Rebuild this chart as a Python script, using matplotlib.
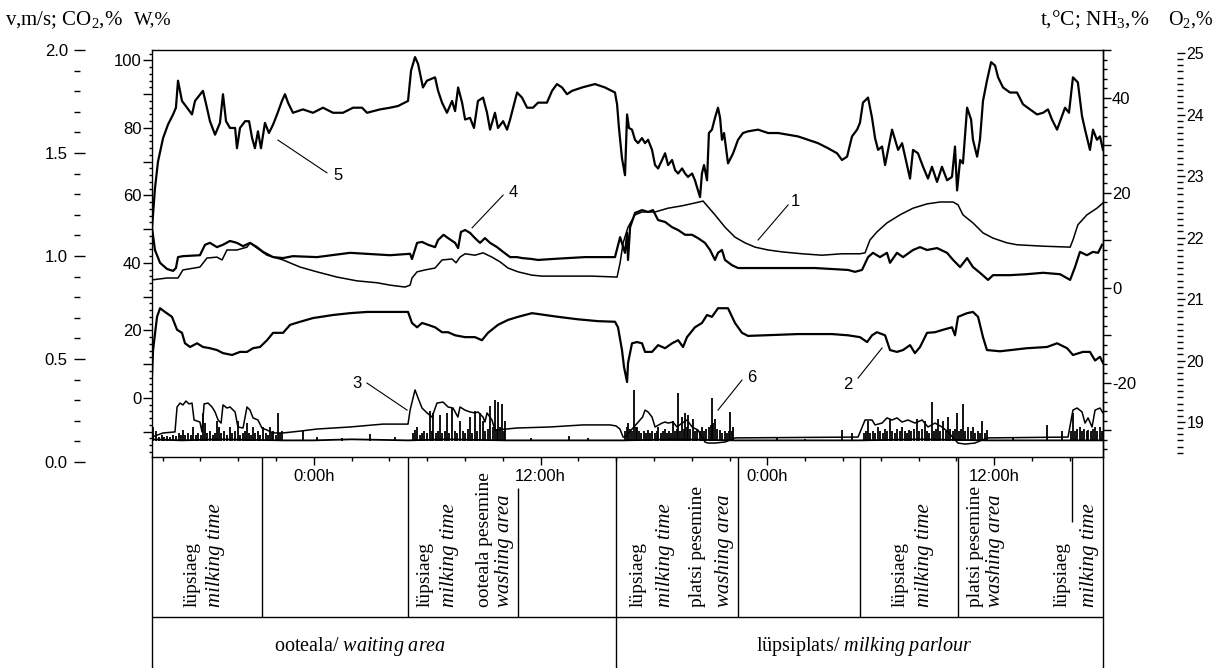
import matplotlib
matplotlib.use("Agg")
import matplotlib.pyplot as plt
from matplotlib.ticker import MultipleLocator, FixedLocator, FixedFormatter, FuncFormatter

# time axis: hours after 16:00 of the first day (waiting area 0-24 h, milking parlour 24-48 h)
clock_ticks = [8, 20, 32, 44]
clock_labels = ["0:00h", "12:00h", "0:00h", "12:00h"]

# 5 - relative humidity W, %
rh_h = [-0.56, -0.40, -0.24, 0.03, 0.29, 0.56, 0.71, 0.82, 1.03, 1.30, 1.56, 1.72, 2.14, 2.35, 2.51, 2.78,
        3.04, 3.20, 3.36, 3.57, 3.84, 3.94, 4.10, 4.37, 4.58, 4.74, 4.89, 5.05, 5.21, 5.42, 5.63, 5.85,
        6.06, 6.32, 6.48, 6.64, 6.90, 7.43, 7.96, 8.49, 9.02, 9.55, 10.08, 10.56, 10.82, 11.51, 12.04,
        12.46, 12.99, 13.15, 13.36, 13.52, 13.78, 13.99, 14.42, 14.58, 14.79, 15.05, 15.32, 15.48, 15.64,
        15.85, 16.01, 16.27, 16.48, 16.69, 16.96, 17.17, 17.33, 17.59, 17.75, 18.02, 18.23, 18.39, 18.76,
        19.02, 19.29, 19.60, 19.87, 20.34, 20.61, 20.87, 21.14, 21.40, 21.67, 22.20, 22.88, 23.41, 23.94,
        24.05, 24.15,
        24.31, 24.47, 24.58, 24.68, 24.84, 25.00, 25.16, 25.37, 25.53, 25.69, 25.90, 26.06, 26.22, 26.43,
        26.59, 26.75, 26.96, 27.12, 27.28, 27.49, 27.65, 27.80, 28.02, 28.17, 28.33, 28.44, 28.54, 28.65,
        28.81, 28.91, 29.07, 29.23, 29.39, 29.50, 29.60, 29.71, 29.92, 30.19, 30.45, 30.71, 30.98, 31.51,
        32.04, 32.57, 33.10, 33.62, 34.15, 34.68, 35.21, 35.69, 35.95, 36.22, 36.48, 36.75, 36.90, 37.06,
        37.33, 37.54, 37.70, 37.86, 38.07, 38.23, 38.39, 38.60, 38.76, 38.92, 39.13, 39.29, 39.55, 39.71,
        39.97, 40.24, 40.50, 40.71, 40.98, 41.24, 41.51, 41.77, 41.93, 42.04, 42.20, 42.35, 42.57, 42.78,
        42.88, 43.10, 43.25, 43.41, 43.62, 43.84, 44.05, 44.21, 44.47, 44.84, 45.21, 45.53, 45.90, 46.27,
        46.59, 46.85, 47.06, 47.33, 47.59, 47.75, 47.96, 48.17, 48.43, 48.65, 48.81, 49.07, 49.23, 49.44,
        49.60, 49.76]
rh = [50, 62, 70, 77, 81, 84, 86, 94, 88, 86, 84, 88, 91, 86, 82, 78,
      81.5, 90, 82, 80, 80, 74, 80, 82, 82, 77, 74, 79, 74, 81.5, 78.5, 81,
      84, 88, 90, 87.5, 84.5, 85.5, 84.5, 86, 84.5, 84.5, 86, 86, 84.5, 85.5, 86,
      86.5, 88, 97, 101, 99, 92, 94, 95, 91, 87.5, 84.5, 88, 85, 92,
      87.5, 82.5, 83, 80, 88, 89, 84.5, 79.5, 84.5, 80, 82, 79.5, 82.5, 90.5,
      89, 86, 86, 87.5, 87.5, 91, 93, 92, 90, 91, 92, 93, 92, 90.5,
      87, 80,
      71, 66, 84, 80, 79.5, 76.5, 75.5, 77, 75.5, 76.5, 73.5, 69, 68, 70.5,
      72.5, 69, 70.5, 67.5, 66.5, 68, 66.5, 65.5, 66.5, 64.5, 61.5, 59.5, 66.5, 69,
      64.5, 78.5, 79.5, 83, 86, 83, 76.5, 78.5, 69.5, 72.5, 76.5, 78.5, 79, 79.5,
      78.5, 78.5, 78, 77.5, 76.5, 75.5, 74, 72.5, 70.5, 71.5, 77.5, 79.5, 81.5, 87.5,
      89, 83, 77, 73.5, 74.5, 69, 73.5, 79.5, 76.5, 73.5, 75.5, 71.5, 65, 73.5,
      72.5, 68.5, 65, 68.5, 64, 68.5, 64.5, 65.5, 74.5, 61.5, 70.5, 69.5, 86, 82.5,
      76.5, 71.5, 76.5, 88, 94, 99.5, 98.5, 95, 92, 90.5, 90.5, 87, 85.5, 84,
      84.5, 85.5, 82.5, 79.5, 83.5, 86, 84.5, 95, 93.5, 83.5, 79.5, 73.5, 79.5, 76.5,
      77.5, 73.5]

# 1 - air temperature t, °C
temp_h = [-0.56, 0.24, 0.82, 1.08, 1.98, 2.35, 2.88, 3.15, 3.41, 3.94, 4.47, 4.63, 5.00, 5.53, 6.38,
          7.28, 8.17, 9.23, 10.29, 11.35, 12.04, 12.83, 13.10, 13.20, 13.47, 13.89, 14.42, 14.79, 15.32,
          15.53, 15.74, 16.01, 16.53, 16.96, 17.43, 17.86, 18.28, 18.81, 19.55, 20.08, 21.46, 22.72, 24.05,
          24.21, 24.37, 24.63, 25.00, 25.37, 26.06, 26.75, 27.49, 28.17, 28.60, 28.86, 29.23, 29.76, 30.29,
          30.82, 31.35, 32.04, 32.78, 33.84, 34.89, 35.95, 36.90, 37.17, 37.43, 37.80, 38.33, 39.02, 39.71,
          40.45, 41.14, 41.83, 42.09, 42.35, 42.88, 43.41, 43.94, 44.68, 45.21, 46.59, 48.02, 48.17, 48.43,
          48.91, 49.44, 49.76]
temp = [1.7, 2.1, 2.1, 3.8, 4.4, 6.3, 6.5, 5.9, 8.0, 8.0, 8.6, 9.5, 8.4, 6.9, 5.9,
        4.4, 3.4, 2.3, 1.5, 1.1, 0.6, 0.2, 0.6, 2.1, 3.4, 3.8, 4.2, 5.9, 6.1,
        5.3, 6.5, 7.2, 6.9, 7.4, 6.5, 5.5, 4.2, 3.4, 2.7, 2.5, 2.5, 2.5, 2.3,
        5.3, 9.5, 12.8, 15.4, 16.0, 16.0, 16.8, 17.3, 17.9, 18.3, 17.1, 15.4, 12.8, 10.7,
        9.5, 8.6, 8.0, 7.6, 7.2, 6.9, 7.2, 7.2, 7.4, 10.1, 11.8, 13.7, 15.4, 16.8,
        17.7, 18.1, 18.1, 17.5, 15.4, 13.7, 11.6, 10.5, 9.5, 9.1, 8.8, 8.6, 10.1, 13.3,
        15.4, 16.8, 17.9]

# 4 - NH3 (read on the t axis)
nh3_h = [-0.56, -0.40, -0.13, 0.24, 0.56, 0.71, 0.82, 1.08, 1.98, 2.25, 2.51, 2.88, 3.20, 3.57, 3.94,
         4.26, 4.63, 5.00, 5.32, 5.85, 6.38, 6.90, 8.17, 9.92, 12.04, 13.10, 13.20, 13.47, 13.73, 14.05,
         14.42, 14.58, 14.87, 15.11, 15.48, 15.64, 15.79, 16.01, 16.27, 16.53, 16.80, 17.06, 17.33, 17.70,
         18.02, 18.39, 18.76, 19.02, 19.55, 19.87, 20.61, 21.46, 22.35, 23.25, 23.94,
         24.21, 24.47, 24.58, 24.63, 24.74, 25.00, 25.37, 25.69, 25.95, 26.22, 26.59, 26.96, 27.28, 27.65,
         28.02, 28.33, 28.70, 28.97, 29.23, 29.39, 29.60, 29.76, 30.13, 30.45, 31.35, 32.78, 34.52, 36.27,
         36.64, 37.01, 37.33, 37.59, 37.96, 38.33, 38.49, 38.86, 39.18, 39.71, 40.08, 40.45, 40.98, 41.51,
         41.83, 42.20, 42.57, 42.88, 43.25, 43.68, 43.94, 44.84, 45.71, 46.59, 47.49, 48.02, 48.28, 48.54,
         48.91, 49.23, 49.50, 49.71]
nh3 = [12.8, 8.0, 5.3, 4.0, 3.6, 4.2, 6.5, 6.7, 6.9, 9.1, 9.5, 8.6, 9.1, 9.9, 9.5,
       8.8, 9.5, 8.6, 7.6, 6.5, 6.3, 6.7, 6.5, 7.4, 6.9, 7.2, 6.1, 9.5, 9.7, 9.1,
       8.6, 10.1, 11.2, 10.5, 9.5, 8.4, 11.8, 12.2, 11.6, 10.5, 9.5, 10.5, 9.5, 8.6,
       7.6, 6.5, 6.5, 6.3, 6.1, 5.9, 6.1, 6.3, 6.5, 6.5, 6.5,
       10.7, 7.4, 11.6, 5.9, 12.8, 15.8, 16.4, 16.0, 16.4, 14.3, 13.9, 12.8, 12.2, 11.2,
       11.2, 10.5, 9.5, 8.0, 5.9, 7.4, 8.0, 5.9, 4.8, 4.2, 4.2, 4.2, 4.2, 3.8,
       3.4, 3.8, 6.5, 7.4, 6.5, 7.4, 5.3, 7.4, 6.5, 8.0, 8.6, 8.0, 8.4, 7.4,
       5.9, 4.4, 6.3, 4.4, 3.2, 1.7, 2.7, 2.7, 2.9, 3.2, 2.9, 1.7, 4.4, 7.6,
       6.9, 7.6, 7.4, 9.1]

# 2 - O2, %
o2_h = [-0.56, -0.50, -0.29, -0.13, 0.13, 0.50, 0.77, 1.03, 1.19, 1.46, 1.83, 2.14, 2.51, 2.88, 3.20,
        3.68, 4.10, 4.47, 4.79, 5.16, 5.53, 5.85, 6.38, 6.75, 7.28, 7.96, 9.02, 9.92, 10.82, 12.04,
        12.99, 13.20, 13.47, 13.73, 14.05, 14.42, 14.79, 15.11, 15.48, 16.01, 16.53, 16.90, 17.22, 17.75,
        18.28, 18.81, 19.55, 20.24, 20.93, 21.98, 23.04, 23.94, 24.10, 24.31, 24.42, 24.58, 24.63, 24.84,
        25.11, 25.37, 25.53, 25.90, 26.22, 26.59, 26.96, 27.28, 27.54, 27.75, 28.17, 28.54, 28.81, 29.07,
        29.39, 29.92, 30.29, 30.66, 30.98, 31.88, 33.62, 35.42, 36.27, 36.90, 37.28, 37.54, 37.80, 38.23,
        38.49, 38.86, 39.18, 39.55, 39.81, 40.08, 40.45, 40.87, 41.30, 41.77, 41.93, 42.09, 42.57, 42.88,
        43.15, 43.41, 43.62, 44.31, 45.74, 46.80, 47.33, 47.86, 48.17, 48.70, 49.07, 49.34, 49.60, 49.76]
o2 = [19.73, 20.17, 20.71, 20.85, 20.79, 20.71, 20.50, 20.45, 20.28, 20.22, 20.28, 20.22, 20.20, 20.17, 20.12,
      20.09, 20.14, 20.14, 20.20, 20.22, 20.33, 20.45, 20.45, 20.58, 20.63, 20.69, 20.74, 20.77, 20.79, 20.79,
      20.79, 20.61, 20.54, 20.61, 20.58, 20.54, 20.46, 20.46, 20.41, 20.38, 20.38, 20.33, 20.45, 20.58,
      20.66, 20.71, 20.77, 20.74, 20.71, 20.67, 20.64, 20.63, 20.54, 20.17, 19.89, 19.65, 19.96, 20.28,
      20.30, 20.28, 20.14, 20.14, 20.25, 20.20, 20.28, 20.33, 20.22, 20.38, 20.54, 20.61, 20.74, 20.71,
      20.85, 20.85, 20.61, 20.45, 20.40, 20.41, 20.43, 20.43, 20.41, 20.38, 20.30, 20.41, 20.46, 20.41,
      20.17, 20.14, 20.17, 20.25, 20.12, 20.22, 20.45, 20.46, 20.50, 20.54, 20.41, 20.71, 20.77, 20.79,
      20.71, 20.38, 20.17, 20.15, 20.20, 20.22, 20.28, 20.20, 20.09, 20.14, 20.14, 20.00, 20.06, 19.96]

# 3 - CO2, % (read on the v axis)
co2_h = [-0.56, 0.03, 0.66, 0.77, 0.93, 1.08, 1.24, 1.40, 1.56, 1.67, 1.98, 2.09, 2.20, 2.41, 2.62,
         2.78, 2.94, 3.10, 3.20, 3.41, 3.57, 3.84, 3.99, 4.26, 4.47, 4.63, 4.79, 5.05, 5.26, 5.53,
         5.85, 6.38, 7.28, 8.17, 9.92, 11.67, 12.99, 13.10, 13.36, 13.52, 13.73, 14.00, 14.26, 14.52,
         14.84, 15.11, 15.37, 15.63, 15.74, 16.00, 16.27, 16.53, 16.69, 16.96, 17.06, 17.17, 17.43, 17.59,
         18.76, 20.50, 22.25, 23.68, 24.00, 24.20, 24.37, 24.47, 25.40, 25.53, 25.69, 25.90, 26.06, 26.43,
         26.59, 26.75, 27.01, 27.22, 27.49, 27.75, 28.02, 28.33, 28.70, 28.86, 29.23, 29.76, 30.03, 30.29,
         36.80, 37.17, 37.54, 37.70, 38.07, 38.33, 38.60, 38.86, 39.13, 39.44, 39.81, 40.19, 40.50, 40.87,
         41.24, 41.56, 41.93, 42.09, 42.46, 42.99, 43.36, 43.68, 47.91, 48.17, 48.39, 48.65, 48.81, 48.97,
         49.18, 49.34, 49.60, 49.76]
co2 = [0.121, 0.141, 0.146, 0.267, 0.286, 0.277, 0.296, 0.282, 0.286, 0.204, 0.194, 0.146, 0.282, 0.286, 0.267,
       0.243, 0.204, 0.189, 0.277, 0.262, 0.267, 0.243, 0.170, 0.165, 0.267, 0.252, 0.214, 0.204, 0.165, 0.155,
       0.141, 0.141, 0.150, 0.160, 0.170, 0.184, 0.184, 0.252, 0.350, 0.311, 0.262, 0.238, 0.218, 0.286,
       0.291, 0.267, 0.262, 0.218, 0.267, 0.252, 0.243, 0.238, 0.243, 0.218, 0.194, 0.238, 0.204, 0.155,
       0.165, 0.170, 0.180, 0.180, 0.175, 0.160, 0.121, 0.121, 0.218, 0.252, 0.243, 0.218, 0.170, 0.189,
       0.194, 0.189, 0.194, 0.170, 0.189, 0.204, 0.170, 0.155, 0.097, 0.092, 0.092, 0.097, 0.107, 0.117,
       0.121, 0.204, 0.204, 0.180, 0.189, 0.214, 0.204, 0.214, 0.194, 0.204, 0.189, 0.204, 0.170, 0.189,
       0.170, 0.146, 0.107, 0.092, 0.087, 0.092, 0.107, 0.117, 0.121, 0.252, 0.262, 0.243, 0.189, 0.214,
       0.170, 0.252, 0.262, 0.238]

# 6 - air velocity v, m/s: slow baseline plus the short gusts (peak values)
air_h = [-0.56, 1.0, 3.0, 6.4, 8.0, 10.0, 13.0, 15.0, 18.2, 21.0, 24.0, 24.4, 27.0, 30.3, 33.0,
         36.9, 40.0, 43.7, 46.0, 48.0, 49.76]
air = [0.11, 0.105, 0.11, 0.105, 0.105, 0.11, 0.105, 0.11, 0.105, 0.105, 0.105, 0.105, 0.11, 0.105, 0.105,
       0.105, 0.11, 0.105, 0.105, 0.105, 0.105]
air_floor = 0.103
gust_h = [-0.50, -0.34, -0.20, -0.05, 0.10, 0.25, 0.40, 0.55, 0.70, 0.85,
          1.00, 1.08, 1.20, 1.35, 1.50, 1.61, 1.75, 1.90, 2.02, 2.14,
          2.25, 2.38, 2.52, 2.65, 2.78, 2.88, 2.99, 3.12, 3.25, 3.40,
          3.57, 3.70, 3.84, 3.99, 4.12, 4.26, 4.38, 4.47, 4.60, 4.70,
          4.79, 4.92, 5.05, 5.18, 5.32, 5.45, 5.58, 5.69, 5.78, 5.85,
          5.98, 6.11, 6.22, 6.32,
          7.43, 8.20, 9.50, 10.98, 12.30,
          13.25, 13.36, 13.47, 13.60, 13.72, 13.85, 13.98, 14.15, 14.25, 14.31,
          14.45, 14.58, 14.68, 14.80, 14.92, 15.05, 15.18, 15.32, 15.45, 15.60,
          15.74, 15.88, 16.00, 16.14, 16.27, 16.40, 16.53, 16.66, 16.80, 16.96,
          17.08, 17.20, 17.33, 17.46, 17.59, 17.68, 17.75, 17.86, 17.96, 18.05,
          18.12,
          19.50, 21.50, 22.50,
          24.45, 24.55, 24.63, 24.75, 24.85, 24.95, 25.04, 25.11, 25.22, 25.33,
          25.45, 25.57, 25.69, 25.80, 25.92, 26.04, 26.14, 26.22, 26.35, 26.47,
          26.59, 26.70, 26.82, 26.92, 27.01, 27.12, 27.20, 27.28, 27.38, 27.49,
          27.58, 27.65, 27.73, 27.80, 27.92, 28.07, 28.18, 28.30, 28.42, 28.54,
          28.66, 28.78, 28.90, 29.00, 29.07, 29.15, 29.23, 29.35, 29.50, 29.62,
          29.74, 29.86, 29.95, 30.03, 30.12, 30.19,
          32.50, 34.00, 35.95, 36.48,
          37.10, 37.22, 37.33, 37.45, 37.58, 37.70, 37.86, 37.98, 38.10, 38.22,
          38.35, 38.49, 38.62, 38.75, 38.88, 39.00, 39.13, 39.26, 39.38, 39.50,
          39.62, 39.75, 39.92, 40.05, 40.18, 40.34, 40.46, 40.58, 40.71, 40.83,
          40.95, 41.03, 41.16, 41.30, 41.43, 41.56, 41.68, 41.80, 41.92, 42.04,
          42.16, 42.27, 42.35, 42.48, 42.62, 42.75, 42.88, 43.00, 43.12, 43.24,
          43.36, 43.50, 43.62,
          45.00, 46.80, 47.59,
          48.05, 48.17, 48.28, 48.40, 48.54, 48.66, 48.78, 48.90, 48.97, 49.10,
          49.22, 49.33, 49.45, 49.60, 49.70]
gust = [0.17, 0.15, 0.12, 0.13, 0.12, 0.125, 0.12, 0.13, 0.125, 0.14,
        0.13, 0.155, 0.13, 0.14, 0.13, 0.17, 0.13, 0.14, 0.13, 0.24,
        0.19, 0.14, 0.15, 0.13, 0.14, 0.20, 0.17, 0.14, 0.15, 0.13,
        0.17, 0.14, 0.15, 0.20, 0.13, 0.14, 0.15, 0.19, 0.14, 0.13,
        0.17, 0.14, 0.15, 0.13, 0.17, 0.14, 0.13, 0.17, 0.14, 0.15,
        0.13, 0.24, 0.14, 0.15,
        0.15, 0.12, 0.115, 0.135, 0.12,
        0.14, 0.155, 0.17, 0.13, 0.14, 0.15, 0.14, 0.25, 0.15, 0.24,
        0.14, 0.15, 0.23, 0.14, 0.15, 0.24, 0.14, 0.26, 0.15, 0.14,
        0.20, 0.15, 0.14, 0.16, 0.22, 0.14, 0.25, 0.15, 0.24, 0.20,
        0.15, 0.16, 0.27, 0.17, 0.30, 0.16, 0.29, 0.17, 0.28, 0.15,
        0.20,
        0.115, 0.125, 0.115,
        0.15, 0.17, 0.19, 0.16, 0.15, 0.35, 0.17, 0.17, 0.15, 0.14,
        0.15, 0.14, 0.155, 0.14, 0.15, 0.14, 0.15, 0.17, 0.14, 0.15,
        0.16, 0.14, 0.15, 0.14, 0.20, 0.15, 0.16, 0.335, 0.15, 0.22,
        0.16, 0.24, 0.17, 0.23, 0.16, 0.21, 0.15, 0.16, 0.15, 0.17,
        0.15, 0.16, 0.17, 0.18, 0.31, 0.19, 0.21, 0.16, 0.155, 0.14,
        0.15, 0.14, 0.15, 0.245, 0.15, 0.17,
        0.115, 0.11, 0.155, 0.14,
        0.14, 0.15, 0.20, 0.14, 0.15, 0.14, 0.17, 0.15, 0.14, 0.16,
        0.15, 0.21, 0.15, 0.14, 0.16, 0.15, 0.17, 0.15, 0.14, 0.155,
        0.15, 0.16, 0.21, 0.15, 0.16, 0.20, 0.15, 0.14, 0.29, 0.15,
        0.16, 0.21, 0.15, 0.20, 0.15, 0.22, 0.16, 0.15, 0.16, 0.24,
        0.15, 0.16, 0.28, 0.15, 0.17, 0.15, 0.17, 0.14, 0.15, 0.14,
        0.20, 0.14, 0.155,
        0.115, 0.18, 0.15,
        0.15, 0.24, 0.15, 0.16, 0.17, 0.15, 0.16, 0.15, 0.155, 0.15,
        0.16, 0.17, 0.15, 0.17, 0.15]

# bottom table: period boundaries (hours) and labels
section_edge = 24
cell_edges = [5.26, 12.99, 30.44, 36.90, 42.09]
label_h = [1.59, 2.78, 13.89, 15.21, 17.01, 18.12, 25.16, 26.59, 28.33, 29.76,
           39.02, 40.29, 42.99, 44.05, 47.59, 49.07]
label_txt = ["lüpsiaeg", "milking time", "lüpsiaeg", "milking time", "ooteala pesemine", "washing area",
             "lüpsiaeg", "milking time", "platsi pesemine", "washing area",
             "lüpsiaeg", "milking time", "platsi pesemine", "washing area", "lüpsiaeg", "milking time"]
area_h = [10.45, 37.12]
area_txt = [r"ooteala/ $\mathit{waiting\ area}$", r"lüpsiplats/ $\mathit{milking\ parlour}$"]

# curve numbers: label position, leader start, leader end (hours, W-axis units)
curve_ids = ["1", "2", "3", "4", "5", "6"]
id_pos = [(33.47, 58.1), (36.27, 3.9), (10.29, 4.4), (18.54, 61.0), (9.29, 65.8), (31.19, 6.2)]
lead_a = [(33.10, 57.2), (36.80, 5.9), (10.82, 4.4), (18.02, 60.1), (8.70, 66.7), (30.66, 5.3)]
lead_b = [(31.51, 46.8), (38.07, 14.8), (12.94, -3.6), (16.38, 50.4), (6.11, 76.4), (29.39, -3.6)]

plt.rcParams['font.family'] = ['Liberation Sans', 'DejaVu Sans']
plt.rcParams['mathtext.fontset'] = 'custom'
plt.rcParams['mathtext.rm'] = 'Liberation Serif'
plt.rcParams['mathtext.it'] = 'Liberation Serif:italic'
plt.rcParams['mathtext.bf'] = 'Liberation Serif:bold'
plt.rcParams['axes.linewidth'] = 1.0

FW, FH = 1216, 668


def rect(x0, y0, x1, y1):
    # pixel box (y from top) -> figure fraction
    return [x0 / FW, 1 - y1 / FH, (x1 - x0) / FW, (y1 - y0) / FH]


every20 = FuncFormatter(lambda v, p: f"{int(round(v))}" if int(round(v)) % 20 == 0 else "")
XLIM = (-0.556, 49.76)
SERIF = 'Liberation Serif'

fig = plt.figure(figsize=(FW / 100, FH / 100), dpi=100)

# main axes: W %
ax = fig.add_axes(rect(152, 50, 1103, 457))
ax.plot(rh_h, rh, color='k', lw=1.6)
ax.set_xlim(*XLIM)
ax.set_ylim(-17.5, 103.1)
ax.yaxis.set_major_locator(MultipleLocator(10))
ax.yaxis.set_minor_locator(MultipleLocator(2))
ax.yaxis.set_major_formatter(every20)
ax.xaxis.set_major_locator(FixedLocator(clock_ticks))
ax.xaxis.set_major_formatter(FixedFormatter(clock_labels))
ax.xaxis.set_minor_locator(MultipleLocator(2))
ax.tick_params(axis='y', which='major', length=6.5, width=1, pad=1, labelsize=12)
ax.tick_params(axis='y', which='minor', length=2.5, width=1)
ax.tick_params(axis='x', which='major', length=5.5, width=1, pad=3, labelsize=12)
ax.tick_params(axis='x', which='minor', length=3, width=1)

for t, p, a, b in zip(curve_ids, id_pos, lead_a, lead_b):
    ax.plot([a[0], b[0]], [a[1], b[1]], color='k', lw=0.8)
    ax.text(p[0], p[1], t, ha='center', va='center', fontsize=12)

# t, °C / NH3 axis on the right edge
axt = ax.twinx()
axt.plot(temp_h, temp, color='k', lw=1.1)
axt.plot(nh3_h, nh3, color='k', lw=1.6)
axt.set_ylim(-35.58, 50.1)
axt.yaxis.set_major_locator(MultipleLocator(10))
axt.yaxis.set_minor_locator(MultipleLocator(2))
axt.yaxis.set_major_formatter(every20)
axt.tick_params(axis='y', which='major', length=5.5, width=1, pad=1, labelsize=12)
axt.tick_params(axis='y', which='minor', length=3, width=1)
for s in ('left', 'top', 'bottom'):
    axt.spines[s].set_visible(False)

# O2 axis, floating further right
axo = ax.twinx()
axo.plot(o2_h, o2, color='k', lw=1.6)
axo.set_ylim(18.431, 25.049)
axo.spines['right'].set_position(('outward', 74 * 0.72))
for s in axo.spines.values():
    s.set_visible(False)
axo.yaxis.set_major_locator(MultipleLocator(1))
axo.yaxis.set_minor_locator(MultipleLocator(0.1))
axo.yaxis.set_major_formatter(FuncFormatter(lambda v, p: f"{v:.0f}"))
axo.tick_params(axis='y', which='major', length=6, width=1, pad=1, labelsize=11.5)
axo.tick_params(axis='y', which='minor', length=4.5, width=1)

# v, m/s / CO2 axis, floating on the far left
axv = fig.add_axes(rect(152, 50, 1103, 462))
axv.patch.set_visible(False)
axv.plot(co2_h, co2, color='k', lw=1.1)
axv.plot(air_h, air, color='k', lw=1.3)
axv.vlines(gust_h, air_floor, gust, color='k', lw=1.3)
axv.set_xlim(*XLIM)
axv.set_ylim(0, 2.0)
for s in axv.spines.values():
    s.set_visible(False)
axv.spines['left'].set_position(('outward', 78 * 0.72))
axv.xaxis.set_visible(False)
axv.yaxis.set_major_locator(MultipleLocator(0.5))
axv.yaxis.set_minor_locator(MultipleLocator(0.1))
axv.yaxis.set_major_formatter(FuncFormatter(lambda v, p: f"{v:.1f}"))
axv.tick_params(axis='y', which='major', direction='in', length=8, width=1, pad=4.5, labelsize=12)
axv.tick_params(axis='y', which='minor', direction='in', length=4.3, width=1)

# table under the plot
ROW = (668 - 617) / 211
axb = fig.add_axes(rect(152, 457, 1103, 668))
axb.patch.set_visible(False)
axb.set_xlim(*XLIM)
axb.set_ylim(0, 1)
axb.set_xticks([])
axb.set_yticks([])
axb.spines['top'].set_visible(False)
axb.spines['bottom'].set_visible(False)
axb.axhline(ROW, color='k', lw=1)
axb.vlines([section_edge], 0, 1, color='k', lw=1)
axb.vlines(cell_edges, ROW, 1, color='k', lw=1)
axb.vlines([18.81], ROW, (668 - 488) / 211, color='k', lw=1)
axb.vlines([48.12], (668 - 522) / 211, 1, color='k', lw=1)
for h, s in zip(label_h, label_txt):
    it = s in ("milking time", "washing area")
    axb.text(h, (668 - 607) / 211, s, rotation=90, ha='center', va='bottom', family=SERIF,
             style='italic' if it else 'normal', fontsize=15 if it else 14)
for h, s in zip(area_h, area_txt):
    axb.text(h, (668 - 647) / 211, s, ha='center', va='center', family=SERIF, fontsize=14.5)

# axis headers
fig.text(5 / FW, 1 - 20 / FH, r"v,m/s; CO$_2$,%", family=SERIF, fontsize=15, va='center')
fig.text(134 / FW, 1 - 20 / FH, "W,%", family=SERIF, fontsize=14, va='center')
fig.text(1040 / FW, 1 - 20 / FH, r"t,°C; NH$_3$,%", family=SERIF, fontsize=15.5, va='center')
fig.text(1168 / FW, 1 - 20 / FH, r"O$_2$,%", family=SERIF, fontsize=14.5, va='center')

fig.savefig("out.png", dpi=100)
